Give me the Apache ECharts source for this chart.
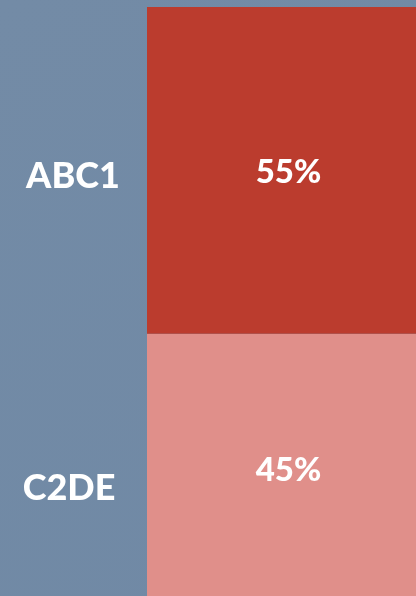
<!DOCTYPE html>
<html>
<head>
<meta charset="utf-8">
<script src="https://cdn.jsdelivr.net/npm/echarts@6/dist/echarts.min.js"></script>
<style>
  html, body { margin: 0; padding: 0; overflow: hidden; }
  #chart { width: 416px; height: 601px; }
</style>
</head>
<body>
<div id="chart"></div>
<script>
// share of respondents by social grade
const groups = ['ABC1', 'C2DE']
const shares = [55, 45]
const colors = ['#bb3c2e', '#e08f8a']

const chart = echarts.init(document.getElementById('chart'))

const font = 'Lato, "Open Sans", sans-serif'

// stack C2DE at bottom, ABC1 on top
const series = groups.map((g, i) => ({
  name: g,
  type: 'bar',
  stack: 'total',
  barWidth: '100%',
  data: [shares[i]],
  itemStyle: { color: colors[i] },
  label: {
    show: true,
    position: 'inside',
    formatter: '{c}%',
    color: '#fff',
    fontFamily: font,
    fontWeight: 900,
    fontSize: 33,
    offset: i === 0 ? [7, 2] : [7, 3],
  },
})).reverse()

chart.setOption({
  backgroundColor: {
    type: 'linear', x: 0, y: 0, x2: 1, y2: 1,
    colorStops: [
      { offset: 0, color: '#738ba6' },
      { offset: 1, color: '#7089a5' },
    ],
  },
  animation: false,
  grid: { left: 147, right: 0, top: 7, bottom: 0 },
  xAxis: { type: 'category', data: [''], show: false },
  yAxis: { type: 'value', min: 0, max: 100, show: false },
  series,
  graphic: [
    { type: 'text', x: 73, y: 176, style: { text: groups[0], fill: '#fff', font: '900 36px ' + font, align: 'center', verticalAlign: 'middle' } },
    { type: 'text', x: 69, y: 488, style: { text: groups[1], fill: '#fff', font: '900 36px ' + font, align: 'center', verticalAlign: 'middle' } },
  ],
})
</script>
</body>
</html>
